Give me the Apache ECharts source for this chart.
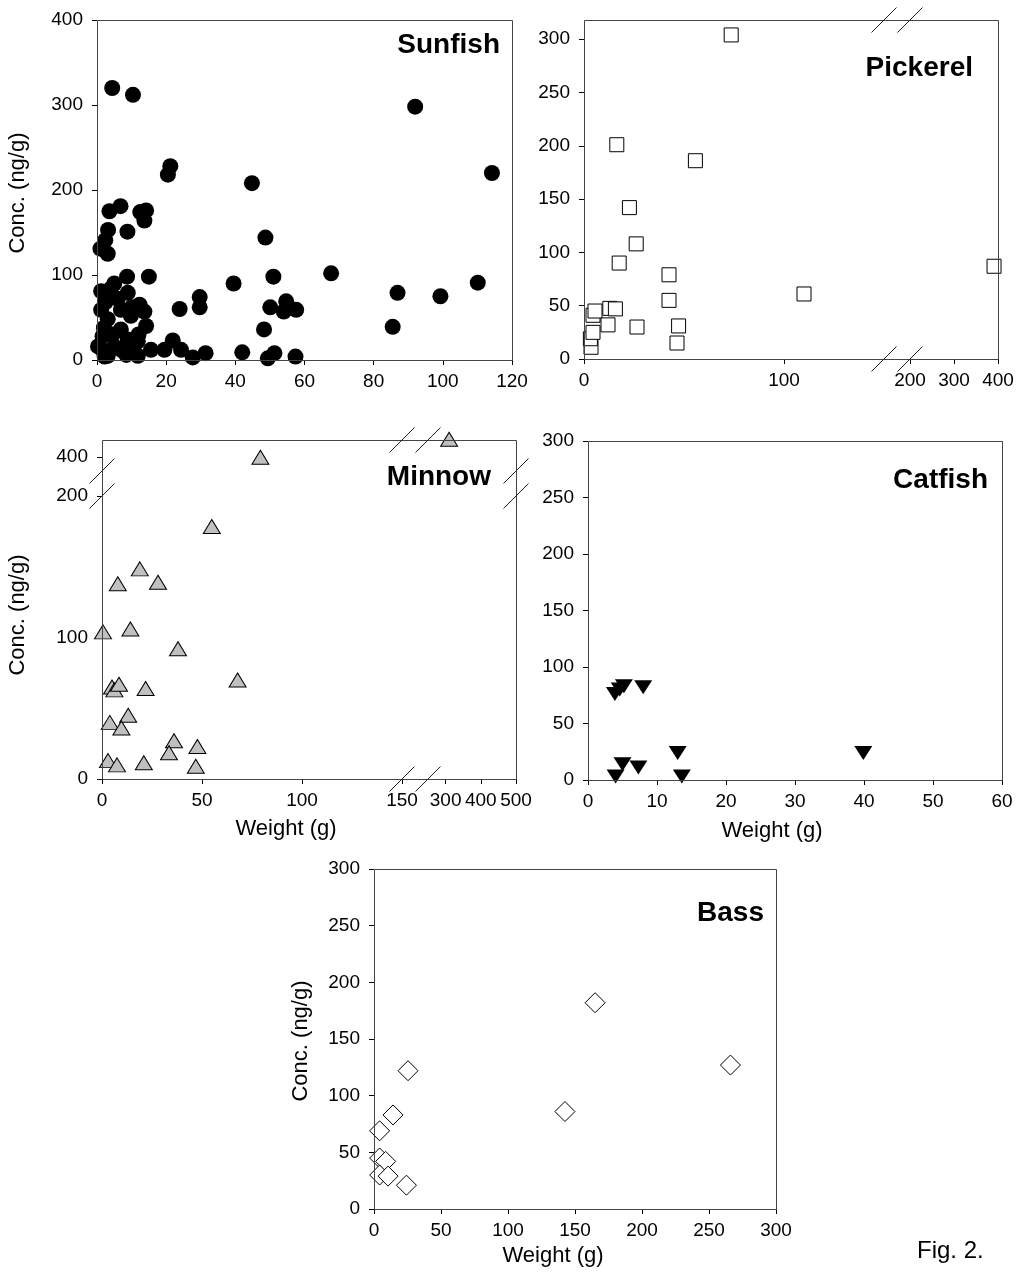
<!DOCTYPE html>
<html>
<head>
<meta charset="utf-8">
<script src="https://cdn.jsdelivr.net/npm/echarts@6/dist/echarts.min.js"></script>
<style>
  html, body { margin: 0; padding: 0; background: #fff; }
  #chart { width: 1018px; height: 1279px; }
</style>
</head>
<body>
<div id="chart"></div>
<script>
// ---- Fish weight (g) vs. concentration (ng/g), one list pair per species ----
const sunfishWeight = [1.0, 2.4, 3.2, 3.6, 6.8, 12.5, 14.2, 13.7, 8.8, 3.1, 4.4, 10.4, 21.2, 20.5, 44.8, 48.7, 92.0, 114.2,
  1.2, 5.0, 8.7, 15.0, 8.9, 12.3, 13.7, 14.2, 1.2, 1.6, 1.6, 3.1, 6.9, 8.9, 11.8, 10.8, 15.6, 19.5, 21.9, 24.3, 6.9, 3.1,
  5.0, 0.3, 9.8, 2.2, 8.5, 11.8, 27.7, 31.4, 42.0, 49.4, 51.3, 57.4, 23.9, 29.7, 29.7, 39.5, 51.0, 50.1, 54.7, 54.0, 57.6,
  48.3, 67.7, 86.9, 99.3, 110.1, 85.5, 2.5, 4.5, 7.0, 12.0, 6.0, 10.0, 2.0, 4.0, 2.2];
const sunfishConc = [131, 141, 153, 175, 181, 174, 176, 164, 151, 125, 320, 312, 228, 218, 208, 144, 298, 220,
  81, 90, 98, 98, 79, 65, 57, 40, 59, 28, 12, 5, 36, 24, 22, 8, 12, 12, 23, 12, 59, 48,
  16, 16, 52, 4, 6, 5, 3, 8, 9, 2, 8, 4, 60, 74, 62, 90, 98, 62, 69, 57, 59,
  36, 102, 79, 75, 91, 39, 68, 30, 12, 30, 72, 62, 38, 84, 75];

const pickerelWeight = [3.5, 3.2, 4.5, 4.5, 5.5, 12.0, 12.9, 15.7, 26.5, 46.5, 47.3, 42.5, 42.5, 17.6, 26.1, 22.7, 16.4, 55.7, 73.6, 110, 391];
const pickerelConc   = [11, 19, 25, 41, 45, 32, 47.5, 47, 30, 15, 31, 55, 79, 90, 108, 142, 201, 186, 304, 61, 87];

const minnowWeight = [79.2, 310, 54.9, 18.9, 7.9, 28.0, 0.5, 14.2, 38.0, 67.8, 5.0, 6.2, 8.5, 21.8, 3.9, 13.1, 9.7, 36.0, 33.5, 47.7, 3.0, 7.5, 20.9, 46.9];
const minnowConc   = [400, 452, 178.5, 148.5, 138, 139, 104, 106, 92, 70, 65, 63, 67, 64, 40, 45, 36, 27, 18.5, 23, 13, 10, 11.5, 9];

const catfishWeight = [3.9, 4.6, 5.2, 8.0, 13.0, 39.9, 5.0, 7.3, 4.0, 13.6];
const catfishConc   = [76, 80, 83, 82, 24, 24, 14, 11, 3, 3];

const bassWeight = [25.4, 165, 266, 142.5, 14.2, 4.2, 4.2, 8.7, 4.2, 10.5, 24.2];
const bassConc   = [122, 182, 127, 86, 83, 69, 45, 42, 30, 29, 21];

// ---- Tick values ----
const sunfishXTicks = [0, 20, 40, 60, 80, 100, 120];
const sunfishYTicks = [0, 100, 200, 300, 400];
const pickerelXTicksLow = [0, 100];
const pickerelXTicksHigh = [200, 300, 400];
const pickerelYTicks = [0, 50, 100, 150, 200, 250, 300];
const minnowXTicksLow = [0, 50, 100, 150];
const minnowXTicksHigh = [300, 400, 500];
const minnowYTicksLow = [0, 100, 200];
const minnowYTicksHigh = [400];
const catfishXTicks = [0, 10, 20, 30, 40, 50, 60];
const catfishYTicks = [0, 50, 100, 150, 200, 250, 300];
const bassXTicks = [0, 50, 100, 150, 200, 250, 300];
const bassYTicks = [0, 50, 100, 150, 200, 250, 300];

// ---- Layout ----
const FONT = "'Liberation Sans', Arial, Helvetica, sans-serif";
const FRAME_COLOR = '#444';

const grids = [], xAxes = [], yAxes = [], series = [], graphics = [];

function makeAxis(gi, range, ticks, dim) {
  const show = !!ticks;
  return {
    type: 'value', gridIndex: gi, min: range[0], max: range[1],
    position: dim === 'x' ? 'bottom' : 'left',
    splitLine: { show: false },
    axisLine: { show: false },
    axisTick: show ? { show: true, customValues: ticks, length: 5, inside: false, lineStyle: { color: '#000', width: 1 } } : { show: false },
    axisLabel: show ? { show: true, customValues: ticks, margin: dim === 'x' ? 12 : 14, color: '#000', fontSize: 19, fontFamily: FONT } : { show: false }
  };
}

// rect: [left, top, right, bottom] in px
function addGrid(rect, xr, yr, xTicks, yTicks) {
  const gi = grids.length;
  grids.push({ left: rect[0], top: rect[1], width: rect[2] - rect[0], height: rect[3] - rect[1] });
  xAxes.push(makeAxis(gi, xr, xTicks, 'x'));
  yAxes.push(makeAxis(gi, yr, yTicks, 'y'));
  return gi;
}

function addScatter(gi, xs, ys, keep, look) {
  const data = [];
  xs.forEach((x, i) => { if (keep(x, ys[i])) data.push([x, ys[i]]); });
  series.push(Object.assign({
    type: 'scatter', xAxisIndex: gi, yAxisIndex: gi, data: data,
    clip: false, silent: true, animation: false
  }, look));
}

function frame(box) {
  graphics.push({
    type: 'rect', z: 5,
    shape: { x: box[0] + 0.5, y: box[1] + 0.5, width: box[2] - box[0], height: box[3] - box[1] },
    style: { fill: 'none', stroke: FRAME_COLOR, lineWidth: 1 }
  });
}

function slash(cx, cy) {
  graphics.push({
    type: 'line', z: 6,
    shape: { x1: cx - 12.5, y1: cy + 12.5, x2: cx + 12.5, y2: cy - 12.5 },
    style: { stroke: '#222', lineWidth: 1 }
  });
}

function title(text, right, cy) {
  graphics.push({
    type: 'text', z: 7, x: right, y: cy,
    style: { text: text, font: 'bold 28px ' + FONT, fill: '#000',
      align: 'right', verticalAlign: 'middle', textAlign: 'right', textVerticalAlign: 'middle' }
  });
}

function axisName(text, x, y, vertical) {
  graphics.push({
    type: 'text', z: 7, x: x, y: y, rotation: vertical ? Math.PI / 2 : 0,
    style: { text: text, font: '22px ' + FONT, fill: '#000',
      align: 'center', verticalAlign: 'middle', textAlign: 'center', textVerticalAlign: 'middle' }
  });
}

const all = () => true;
const circleLook   = { symbol: 'circle', symbolSize: 16, itemStyle: { color: '#000', opacity: 1 } };
const squareLook   = { symbol: 'rect', symbolSize: 14, itemStyle: { color: '#fff', borderColor: '#000', borderWidth: 1, opacity: 1 } };
const triUpLook    = { symbol: 'triangle', symbolSize: [17, 14], itemStyle: { color: '#c0c0c0', borderColor: '#000', borderWidth: 1, opacity: 1 } };
const triDownLook  = { symbol: 'triangle', symbolSize: [18, 14], symbolRotate: 180, itemStyle: { color: '#000', opacity: 1 } };
const diamondLook  = { symbol: 'diamond', symbolSize: 20, itemStyle: { color: '#fff', borderColor: '#000', borderWidth: 1, opacity: 1 } };

// Sunfish
const sunBox = [97, 20, 512, 360];
frame(sunBox);
addScatter(addGrid(sunBox, [0, 120], [0, 400], sunfishXTicks, sunfishYTicks), sunfishWeight, sunfishConc, all, circleLook);
title('Sunfish', 500, 45);
axisName('Conc. (ng/g)', 18, 193, true);

// Pickerel (broken weight axis: 0-150 | 200-400)
const pickBox = [584, 20, 998, 359];
const pickLowRight = 884, pickHighLeft = 910;
frame(pickBox);
const pkLow = addGrid([pickBox[0], pickBox[1], pickLowRight, pickBox[3]], [0, 150], [0, 318], pickerelXTicksLow, pickerelYTicks);
const pkHigh = addGrid([pickHighLeft, pickBox[1], pickBox[2], pickBox[3]], [200, 400], [0, 318], pickerelXTicksHigh, null);
addScatter(pkLow, pickerelWeight, pickerelConc, (x) => x <= 150, squareLook);
addScatter(pkHigh, pickerelWeight, pickerelConc, (x) => x >= 200, squareLook);
[pickLowRight, pickHighLeft].forEach(x => { slash(x, pickBox[1]); slash(x, pickBox[3]); });
title('Pickerel', 973, 68);

// Minnow (broken weight and concentration axes)
const minBox = [102, 440, 516, 779];
const minXLowRight = 402, minXHighLeft = 428;
const minYLowTop = 496, minYHighBottom = 471;
frame(minBox);
const mnLL = addGrid([minBox[0], minYLowTop, minXLowRight, minBox[3]], [0, 150], [0, 200], minnowXTicksLow, minnowYTicksLow);
const mnLH = addGrid([minBox[0], minBox[1], minXLowRight, minYHighBottom], [0, 150], [360, 450], null, minnowYTicksHigh);
const mnHL = addGrid([minXHighLeft, minYLowTop, minBox[2], minBox[3]], [250, 500], [0, 200], minnowXTicksHigh, null);
const mnHH = addGrid([minXHighLeft, minBox[1], minBox[2], minYHighBottom], [250, 500], [360, 450], null, null);
addScatter(mnLL, minnowWeight, minnowConc, (x, y) => x <= 150 && y <= 200, triUpLook);
addScatter(mnLH, minnowWeight, minnowConc, (x, y) => x <= 150 && y >= 360, triUpLook);
addScatter(mnHL, minnowWeight, minnowConc, (x, y) => x >= 250 && y <= 200, triUpLook);
addScatter(mnHH, minnowWeight, minnowConc, (x, y) => x >= 250 && y >= 360, triUpLook);
[minXLowRight, minXHighLeft].forEach(x => { slash(x, minBox[1]); slash(x, minBox[3]); });
[minYLowTop, minYHighBottom].forEach(y => { slash(minBox[0], y); slash(minBox[2], y); });
title('Minnow', 491, 477);
axisName('Conc. (ng/g)', 18, 615, true);
axisName('Weight (g)', 286, 829, false);

// Catfish
const catBox = [588, 441, 1002, 780];
frame(catBox);
addScatter(addGrid(catBox, [0, 60], [0, 300], catfishXTicks, catfishYTicks), catfishWeight, catfishConc, all, triDownLook);
title('Catfish', 988, 480);
axisName('Weight (g)', 772, 831, false);

// Bass
const bassBox = [374, 869, 776, 1209];
frame(bassBox);
addScatter(addGrid(bassBox, [0, 300], [0, 300], bassXTicks, bassYTicks), bassWeight, bassConc, all, diamondLook);
title('Bass', 764, 913);
axisName('Conc. (ng/g)', 301, 1041, true);
axisName('Weight (g)', 553, 1256, false);

// Figure label
graphics.push({
  type: 'text', z: 7, x: 917, y: 1251,
  style: { text: 'Fig. 2.', font: '24px ' + FONT, fill: '#000',
    align: 'left', verticalAlign: 'middle', textAlign: 'left', textVerticalAlign: 'middle' }
});

const chart = echarts.init(document.getElementById('chart'), null, { renderer: 'canvas' });
chart.setOption({
  backgroundColor: '#fff',
  animation: false,
  textStyle: { fontFamily: FONT },
  grid: grids,
  xAxis: xAxes,
  yAxis: yAxes,
  series: series,
  graphic: { elements: graphics }
});
</script>
</body>
</html>
